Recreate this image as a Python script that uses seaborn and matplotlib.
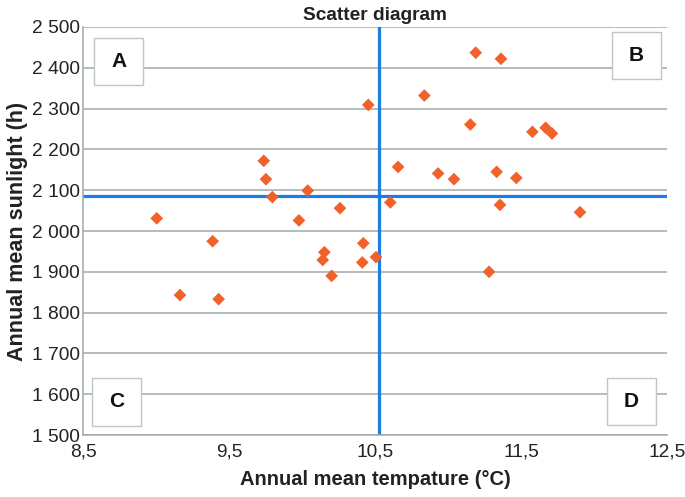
import matplotlib
matplotlib.use("Agg")
import matplotlib.pyplot as plt
import matplotlib.patches as mpatches
import matplotlib.ticker as mticker
import seaborn as sns
import pandas as pd

# ---- data ----
temperature = [10.454, 9.738, 9.753, 9.797, 10.039, 9.005, 9.979, 10.26, 9.388, 10.42,
               10.153, 10.142, 10.413, 10.507, 10.203, 9.164, 9.429,
               11.19, 11.363, 10.838, 11.153, 11.578, 11.669, 11.712, 10.658, 10.932,
               11.041, 11.333, 11.468, 10.605, 11.356, 11.904, 11.281]
sunlight = [2309, 2172, 2127, 2083, 2099, 2031, 2026, 2056, 1975, 1970,
            1948, 1929, 1923, 1936, 1890, 1843, 1833,
            2437, 2422, 2332, 2261, 2243, 2253, 2239, 2157, 2141,
            2127, 2145, 2130, 2070, 2064, 2046, 1900]
mean_temperature = 10.53
mean_sunlight = 2085
x_ticks = [8.5, 9.5, 10.5, 11.5, 12.5]
y_ticks = [1500, 1600, 1700, 1800, 1900, 2000, 2100, 2200, 2300, 2400, 2500]
quadrant_labels = ["A", "B", "C", "D"]

df = pd.DataFrame({"temperature": temperature, "sunlight": sunlight})

sns.set_style("white")
plt.rcParams["font.family"] = ["Liberation Sans", "DejaVu Sans"]

fig = plt.figure(figsize=(6.85, 4.97), dpi=100)
ax = fig.add_axes([83 / 685, 1 - 435 / 497, 584 / 685, 408 / 497])

grid_color = "#9fa9a9"
for yv in y_ticks:
    ax.axhline(yv, color=grid_color, lw=1.1, zorder=0)

ax.axvline(mean_temperature, color="#1a7fe0", lw=2.3, zorder=2)
ax.axhline(mean_sunlight, color="#1a7fe0", lw=2.3, zorder=2)

sns.scatterplot(data=df, x="temperature", y="sunlight", ax=ax, marker="D",
                s=42, color="#f0622a", edgecolor="none", zorder=4)

ax.set_xlim(8.5, 12.5)
ax.set_ylim(1500, 2500)
ax.set_xticks(x_ticks)
ax.set_yticks(y_ticks)
ax.xaxis.set_major_formatter(mticker.FuncFormatter(lambda v, p: f"{v:.1f}".replace(".", ",")))
ax.yaxis.set_major_formatter(mticker.FuncFormatter(lambda v, p: f"{v:,.0f}".replace(",", " ")))
ax.tick_params(axis="both", labelsize=13.8, colors="#222222", length=0, pad=2)
ax.tick_params(axis="x", pad=6)

for s in ["top", "right"]:
    ax.spines[s].set_visible(False)
for s in ["left", "bottom"]:
    ax.spines[s].set_color(grid_color)
    ax.spines[s].set_linewidth(1.1)

ax.set_xlabel("Annual mean tempature (°C)", fontsize=14.5, fontweight="bold", color="#222222", labelpad=7)
ax.set_ylabel("Annual mean sunlight (h)", fontsize=15.5, fontweight="bold", color="#222222", labelpad=3)
ax.set_title("Scatter diagram", fontsize=13.8, fontweight="bold", color="#222222", pad=5)

# quadrant label boxes (axes fraction)
boxes = [(0.019, 0.858, 0.084, 0.115),
         (0.906, 0.873, 0.084, 0.115),
         (0.015, 0.022, 0.084, 0.118),
         (0.897, 0.025, 0.084, 0.115)]
for lab, (bx, by, bw, bh) in zip(quadrant_labels, boxes):
    ax.add_patch(mpatches.Rectangle((bx, by), bw, bh, transform=ax.transAxes,
                                    facecolor="white", edgecolor="#c0c6c6", lw=1.0, zorder=3))
    ax.text(bx + bw / 2, by + bh / 2, lab, transform=ax.transAxes, ha="center", va="center",
            fontsize=15, fontweight="bold", color="#111111", zorder=5)

fig.savefig("out.png", dpi=100)
